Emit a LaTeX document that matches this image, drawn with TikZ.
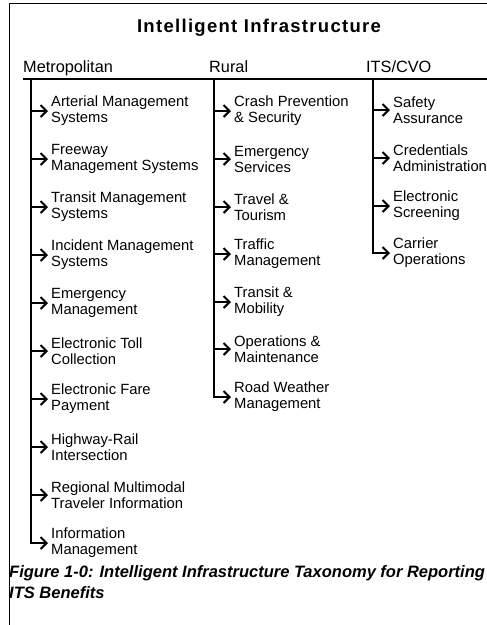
\documentclass[tikz,border=0pt]{standalone}
\usepackage{fontspec}
\setmainfont{Liberation Sans}
\usepackage{xcolor}
\usepackage{tikz}
\usetikzlibrary{shapes,arrows,arrows.meta,positioning}

\begin{document}
\begin{tikzpicture}[x=1pt, y=-1pt, auto]
    % Define styles
    \tikzstyle{title} = [font=\fontsize{18.5}{20}\selectfont\bfseries\addfontfeature{LetterSpace=7}, anchor=base, inner sep=0]
    \tikzstyle{header} = [font=\fontsize{16.3}{18}\selectfont, anchor=base west, inner sep=0]
    \tikzstyle{item} = [font=\fontsize{14.8}{16}\selectfont, align=left, anchor=west, inner xsep=3pt, inner ysep=0]
    \tikzstyle{caption} = [font=\fontsize{16.5}{20}\selectfont\bfseries\itshape, anchor=base west, inner sep=0]
    \tikzstyle{arrow} = [line width=1.6pt, -{Straight Barb[length=6pt,width=12pt,line width=2pt]}]
    \tikzstyle{rule} = [line width=2.6pt]
    \tikzstyle{frame} = [line width=1pt]

    % Page
    \useasboundingbox [fill=white] (0,0) rectangle (487,625);
    \draw [frame] (487,3) -- (9,3) -- (9,625);

    % Title and column heads
    \node [title] (title) at (259,32) {Intelligent Infrastructure};
    \node [header] (metro) at (23,72) {Metropolitan};
    \node [header] (rural) at (209,72) {Rural};
    \node [header] (cvo) at (366,72) {ITS/CVO};
    \draw [rule] (23,79) -- (487,79);

    % Tops of the column lines
    \coordinate (mtop) at (31,79);
    \coordinate (rtop) at (214,79);
    \coordinate (ctop) at (373,79);

    % Metropolitan
    \node [item] (m1) at (48,111) {Arterial Management\\Systems};
    \node [item] (m2) at (48,159) {Freeway\\Management Systems};
    \node [item] (m3) at (48,207) {Transit Management\\Systems};
    \node [item] (m4) at (48,255) {Incident Management\\Systems};
    \node [item] (m5) at (48,303) {Emergency\\Management};
    \node [item] (m6) at (48,351) {Electronic Toll\\Collection};
    \node [item] (m7) at (48,399) {Electronic Fare\\Payment};
    \node [item] (m8) at (48,447) {Highway-Rail\\Intersection};
    \node [item] (m9) at (48,495) {Regional Multimodal\\Traveler Information};
    \node [item] (m10) at (48,543) {Information\\Management};

    % Rural
    \node [item] (r1) at (231,111) {Crash Prevention\\\& Security};
    \node [item] (r2) at (231,159) {Emergency\\Services};
    \node [item] (r3) at (231,207) {Travel \&\\Tourism};
    \node [item] (r4) at (231,254) {Traffic\\Management};
    \node [item] (r5) at (231,302) {Transit \&\\Mobility};
    \node [item] (r6) at (231,349) {Operations \&\\Maintenance};
    \node [item] (r7) at (231,397) {Road Weather\\Management};

    % ITS/CVO
    \node [item] (c1) at (390,110) {Safety\\Assurance};
    \node [item] (c2) at (390,158) {Credentials\\Administration};
    \node [item] (c3) at (390,206) {Electronic\\Screening};
    \node [item] (c4) at (390,253) {Carrier\\Operations};

    % Arrows
    \draw [arrow] (mtop) |- (m1.west);
    \draw [arrow] (mtop) |- (m2.west);
    \draw [arrow] (mtop) |- (m3.west);
    \draw [arrow] (mtop) |- (m4.west);
    \draw [arrow] (mtop) |- (m5.west);
    \draw [arrow] (mtop) |- (m6.west);
    \draw [arrow] (mtop) |- (m7.west);
    \draw [arrow] (mtop) |- (m8.west);
    \draw [arrow] (mtop) |- (m9.west);
    \draw [arrow] (mtop) |- (m10.west);
    \draw [arrow] (rtop) |- (r1.west);
    \draw [arrow] (rtop) |- (r2.west);
    \draw [arrow] (rtop) |- (r3.west);
    \draw [arrow] (rtop) |- (r4.west);
    \draw [arrow] (rtop) |- (r5.west);
    \draw [arrow] (rtop) |- (r6.west);
    \draw [arrow] (rtop) |- (r7.west);
    \draw [arrow] (ctop) |- (c1.west);
    \draw [arrow] (ctop) |- (c2.west);
    \draw [arrow] (ctop) |- (c3.west);
    \draw [arrow] (ctop) |- (c4.west);

    % Caption
    \node [caption] (cap1) at (9,577) {Figure 1-0: Intelligent Infrastructure Taxonomy for Reporting};
    \node [caption] (cap2) at (9,598) {ITS Benefits};
\end{tikzpicture}
\end{document}
